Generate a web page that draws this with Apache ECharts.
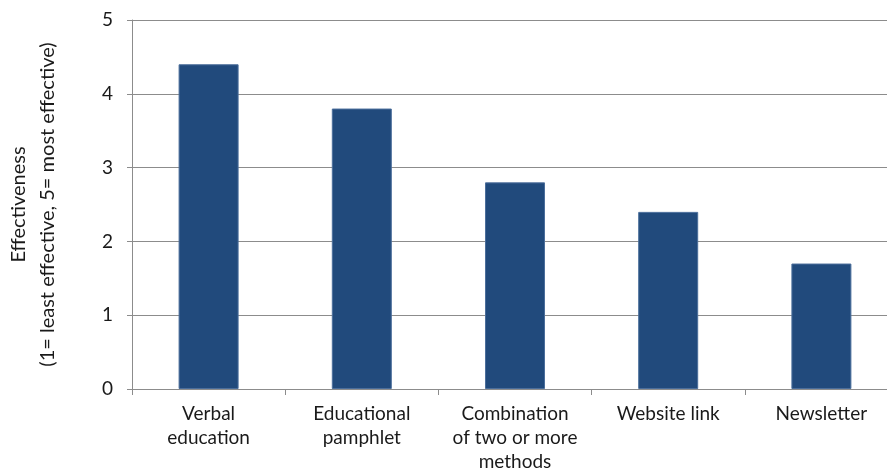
<!DOCTYPE html>
<html>
<head>
<meta charset="utf-8">
<script src="https://cdn.jsdelivr.net/npm/echarts@6/dist/echarts.min.js"></script>
<style>
html,body{margin:0;padding:0;background:#fff;}
#chart{width:887px;height:476px;}
</style>
</head>
<body>
<div id="chart"></div>
<script>
var categories = ['Verbal education', 'Educational pamphlet', 'Combination of two or more methods', 'Website link', 'Newsletter'];
var tickLabels = ['Verbal\neducation', 'Educational\npamphlet', 'Combination\nof two or more\nmethods', 'Website link', 'Newsletter'];
var effectiveness = [4.4, 3.8, 2.8, 2.4, 1.7];
var yAxisTitle = 'Effectiveness\n(1= least effective, 5= most effective)';

var font = 'Lato, Open Sans, sans-serif';
var chart = echarts.init(document.getElementById('chart'), null, {renderer: 'canvas'});
chart.setOption({
  animation: false,
  backgroundColor: '#ffffff',
  grid: {left: 132, top: 20, bottom: 87, right: -11, containLabel: false, outerBoundsMode: 'none'},
  xAxis: {
    type: 'category',
    data: categories,
    boundaryGap: true,
    axisLine: {lineStyle: {color: '#8c8c8c', width: 1}},
    axisTick: {show: true, length: 6, lineStyle: {color: '#8c8c8c'}, alignWithLabel: false},
    axisLabel: {
      interval: 0,
      margin: 13,
      color: '#1a1a1a',
      fontFamily: font,
      fontSize: 19,
      lineHeight: 24,
      formatter: function (v, i) { return tickLabels[i]; }
    },
    splitLine: {show: false}
  },
  yAxis: {
    type: 'value',
    min: 0,
    max: 5,
    interval: 1,
    name: yAxisTitle,
    nameLocation: 'middle',
    nameGap: 70,
    nameRotate: 90,
    nameTextStyle: {color: '#1a1a1a', fontFamily: font, fontSize: 20, lineHeight: 29, align: 'center'},
    axisLine: {show: true, lineStyle: {color: '#8c8c8c', width: 1}},
    axisTick: {show: true, length: 5, lineStyle: {color: '#8c8c8c'}},
    axisLabel: {color: '#1a1a1a', fontFamily: font, fontSize: 19, margin: 19},
    splitLine: {show: true, lineStyle: {color: '#8c8c8c', width: 1}}
  },
  series: [{
    type: 'bar',
    data: effectiveness,
    barWidth: 60,
    itemStyle: {color: '#214a7c', borderColor: '#4b6e9b', borderWidth: 1}
  }]
});
</script>
</body>
</html>
